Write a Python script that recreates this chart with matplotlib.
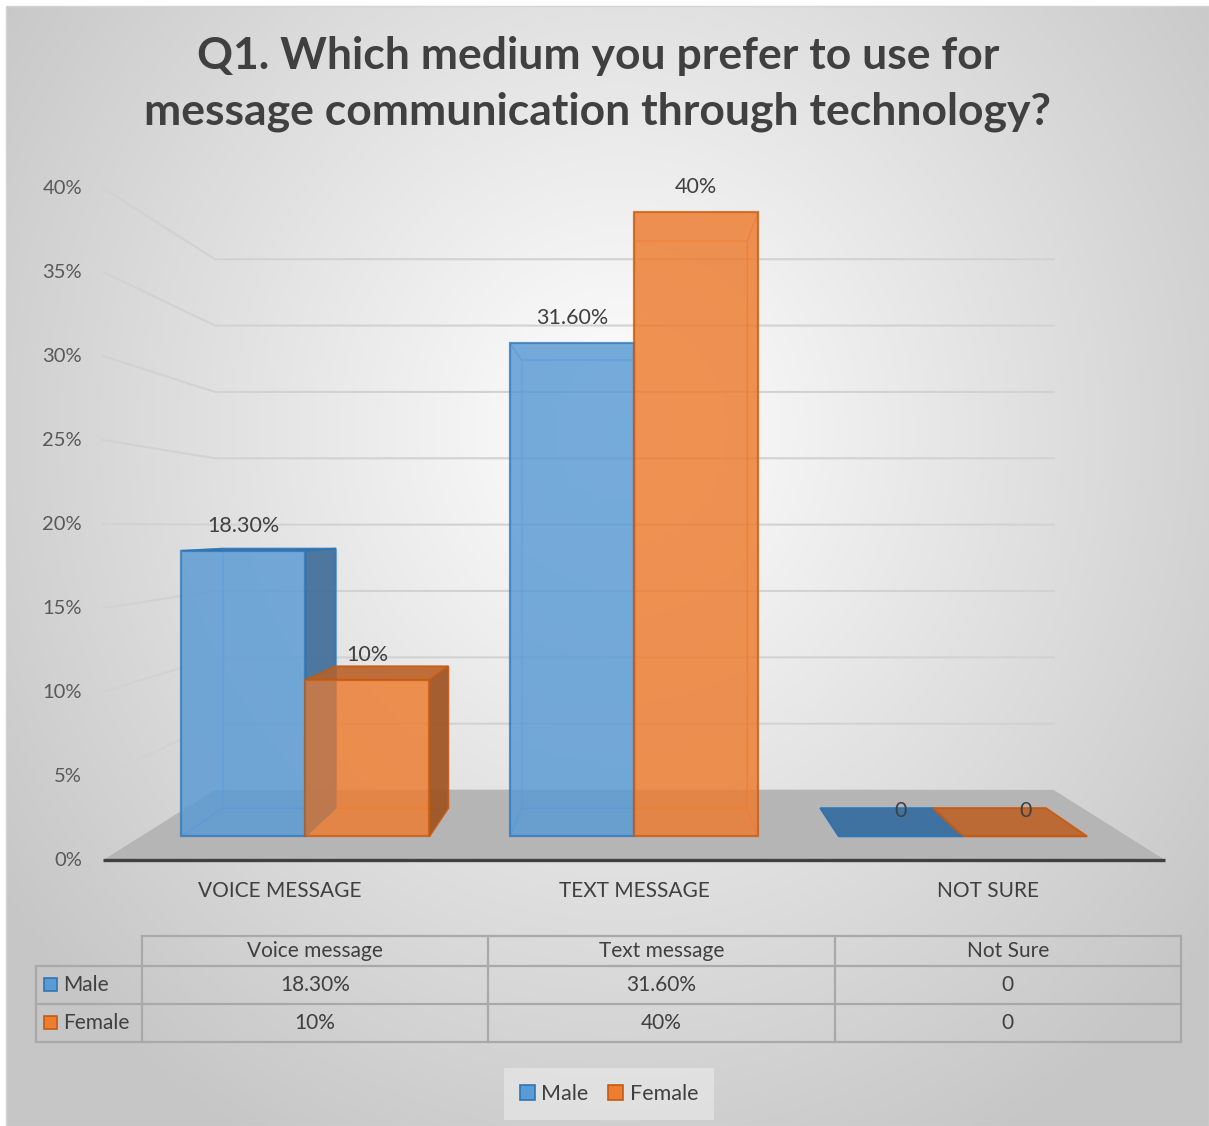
import numpy as np
import matplotlib.pyplot as plt
from matplotlib.patches import Polygon, Rectangle, Patch

# survey answers (percent of respondents)
categories = ['Voice message', 'Text message', 'Not Sure']
axis_labels = ['VOICE MESSAGE', 'TEXT MESSAGE', 'NOT SURE']
series = ['Male', 'Female']
male = [18.3, 31.6, 0]
female = [10, 40, 0]
male_text = ['18.30%', '31.60%', '0']
female_text = ['10%', '40%', '0']
y_ticks = [0, 5, 10, 15, 20, 25, 30, 35, 40]

title = 'Q1. Which medium you prefer to use for\nmessage communication through technology?'

styles = {
    'Male': dict(base='#5b9bd5', edge='#2e75b6', side='#3e6a93', top='#33699c'),
    'Female': dict(base='#ed7d31', edge='#c55a11', side='#97501f', top='#b8612a'),
}

W, H = 1209, 1126
TXT = '#404040'
FONT = ['Lato', 'DejaVu Sans']

# simple one-point perspective for the 3-D column look
VX, VY = 636, 527           # vanishing point
X_L, X_R = 103, 1165        # front edge of the floor
Y_ZERO, PX_PCT = 860, 16.8  # front plane: 0% line and pixels per percent
S_WALL = 0.79               # back wall depth
S_FRONT, S_BACK = 0.929, 0.844  # depth span of the columns
GROUP = 0.755               # share of a category taken by its two columns


def front_x(c):
    return X_L + c * (X_R - X_L) / len(categories)


def front_y(v):
    return Y_ZERO - v * PX_PCT


def proj(x, y, s):
    return VX + (x - VX) * s, VY + (y - VY) * s


def draw_box(ax, xa, xb, v, st):
    ya, yb = front_y(0), front_y(v)
    F, B = S_FRONT, S_BACK
    faces = {
        'back': [(xa, ya, B), (xb, ya, B), (xb, yb, B), (xa, yb, B)],
        'bottom': [(xa, ya, F), (xb, ya, F), (xb, ya, B), (xa, ya, B)],
        'left': [(xa, ya, F), (xa, yb, F), (xa, yb, B), (xa, ya, B)],
        'right': [(xb, ya, F), (xb, yb, F), (xb, yb, B), (xb, ya, B)],
        'top': [(xa, yb, F), (xb, yb, F), (xb, yb, B), (xa, yb, B)],
        'front': [(xa, ya, F), (xb, ya, F), (xb, yb, F), (xa, yb, F)],
    }
    visible = {'left': xa > VX, 'right': xb < VX, 'top': yb >= VY}
    hidden = ['back', 'bottom'] + [k for k in ('left', 'right', 'top') if not visible[k]]
    shown = [k for k in ('left', 'right', 'top') if visible[k]]

    def poly(key, **kw):
        pts = [proj(*p) for p in faces[key]]
        ax.add_patch(Polygon(pts, closed=True, **kw))

    for k in hidden:
        poly(k, facecolor=st['base'], alpha=0.45, edgecolor=st['base'], lw=1.0, zorder=3)
    for k in shown:
        poly(k, facecolor=st['side'] if k != 'top' else st['top'], alpha=0.85,
             edgecolor=st['edge'], lw=1.3, zorder=4)
    poly('front', facecolor=st['base'], alpha=0.7, edgecolor=st['edge'], lw=1.6, zorder=5)


fig = plt.figure(figsize=(W / 100, H / 100), dpi=100)
ax = fig.add_axes([0, 0, 1, 1])
ax.set_xlim(0, W)
ax.set_ylim(H, 0)
ax.axis('off')

# radial background
gx, gy = np.meshgrid(np.arange(6, W), np.arange(6, H))
t = np.clip(np.sqrt(((gx - 620) / 760.0) ** 2 + ((gy - 430) / 820.0) ** 2), 0, 1)
g = 1.0 - t * (1.0 - 0xc6 / 255.0)
ax.imshow(np.dstack([g, g, g]), extent=(6, W, H, 6), zorder=0, interpolation='bilinear')
ax.add_patch(Rectangle((6, 6), W - 6, H - 6, fill=False, edgecolor='#d4d4d4', lw=1, zorder=1))

# title
ax.text(598, 84, title, ha='center', va='center', fontsize=32, fontweight='bold',
        color=TXT, family=FONT, linespacing=1.47)

# walls gridlines and value axis
for v in y_ticks:
    fy = front_y(v)
    p0 = proj(X_L, fy, 1.0)
    p1 = proj(X_L, fy, S_WALL)
    p2 = proj(X_R, fy, S_WALL)
    ax.plot([p0[0], p1[0], p2[0]], [p0[1], p1[1], p2[1]], color='#d2d2d2', lw=1.5, zorder=1)
    ax.text(X_L - 21, fy, f'{v}%', ha='right', va='center', fontsize=14.5,
            color='#595959', family=FONT)

# floor
floor = [proj(X_L, Y_ZERO, 1.0), proj(X_R, Y_ZERO, 1.0),
         proj(X_R, Y_ZERO, S_WALL), proj(X_L, Y_ZERO, S_WALL)]
ax.add_patch(Polygon(floor, closed=True, facecolor='#b5b5b5', edgecolor='none', zorder=2))
ax.plot([X_L, X_R], [Y_ZERO, Y_ZERO], color='#404040', lw=2.4, solid_capstyle='butt', zorder=2)

# columns
bar_w = GROUP / len(series)
for i, cat in enumerate(categories):
    left = i + 0.5 - GROUP / 2
    for j, (name, vals, texts) in enumerate(zip(series, [male, female], [male_text, female_text])):
        xa, xb = front_x(left + j * bar_w), front_x(left + (j + 1) * bar_w)
        draw_box(ax, xa, xb, vals[i], styles[name])
        lx, ly = proj((xa + xb) / 2, front_y(vals[i]), S_FRONT)
        ax.annotate(texts[i], (lx, ly), xytext=(0, 18), textcoords='offset points',
                    ha='center', va='center', fontsize=15.5, color=TXT, family=FONT, zorder=6)
    ax.text(front_x(i + 0.5), Y_ZERO + 31, axis_labels[i], ha='center', va='center',
            fontsize=15, color=TXT, family=FONT)

# data table
col_x = [36, 142, 488.3, 834.7, 1181]
row_y = [936, 966, 1004, 1042]
line = dict(color='#a9a9a9', lw=1.6, zorder=3)
ax.plot([col_x[1], col_x[-1]], [row_y[0], row_y[0]], **line)
for y in row_y[1:]:
    ax.plot([col_x[0], col_x[-1]], [y, y], **line)
for x in col_x[1:]:
    ax.plot([x, x], [row_y[0], row_y[-1]], **line)
ax.plot([col_x[0], col_x[0]], [row_y[1], row_y[-1]], **line)

for k, cat in enumerate(categories):
    cx = (col_x[k + 1] + col_x[k + 2]) / 2
    ax.text(cx, (row_y[0] + row_y[1]) / 2, cat, ha='center', va='center',
            fontsize=15, color=TXT, family=FONT)
for r, (name, texts) in enumerate(zip(series, [male_text, female_text])):
    cy = (row_y[r + 1] + row_y[r + 2]) / 2
    ax.add_patch(Rectangle((44, cy - 7), 13, 13, facecolor=styles[name]['base'],
                           edgecolor=styles[name]['edge'], lw=1.2, zorder=4))
    ax.text(63, cy, name, ha='left', va='center', fontsize=15, color=TXT, family=FONT)
    for k, s in enumerate(texts):
        cx = (col_x[k + 1] + col_x[k + 2]) / 2
        ax.text(cx, cy, s, ha='center', va='center', fontsize=15, color=TXT, family=FONT)

# legend
handles = [Patch(facecolor=styles[n]['base'], edgecolor=styles[n]['edge'], lw=1.2) for n in series]
leg = ax.legend(handles, series, loc='center', bbox_to_anchor=(609 / W, 1 - 1094 / H),
                ncol=2, frameon=True, handlelength=0.7, handleheight=0.7,
                handletextpad=0.3, columnspacing=0.9, borderpad=0.75,
                prop={'family': FONT, 'size': 15.5})
leg.get_frame().set_facecolor('#f0f0f0')
leg.get_frame().set_alpha(0.5)
leg.get_frame().set_edgecolor('none')
leg.get_frame().set_boxstyle('square', pad=0)
for txt in leg.get_texts():
    txt.set_color(TXT)

fig.savefig('out.png', dpi=100)
